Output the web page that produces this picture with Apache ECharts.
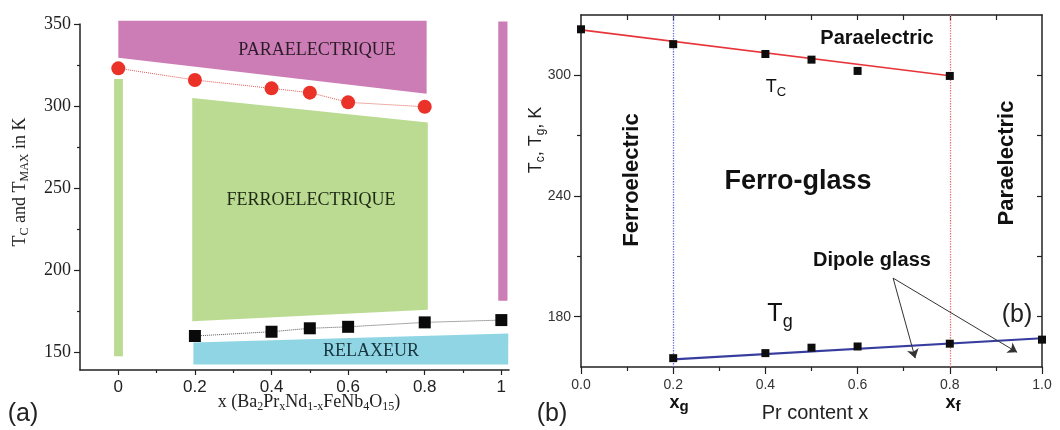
<!DOCTYPE html>
<html><head><meta charset="utf-8">
<script src="https://cdn.jsdelivr.net/npm/echarts@6/dist/echarts.min.js"></script>
<style>html,body{margin:0;padding:0;background:#fff}#c{width:1060px;height:430px}</style>
</head><body><div id="c"></div>
<script>
// ---------- Panel (a) data ----------
const aTmaxX = [0, 0.2, 0.4, 0.5, 0.6, 0.8];
const aTmaxY = [323.0, 315.9, 310.8, 308.2, 302.3, 299.6];
const aTgX = [0.2, 0.4, 0.5, 0.6, 0.8, 1.0];
const aTgY = [160.0, 162.6, 164.7, 165.6, 168.3, 169.7];
const aParaRegion = [[0, 352], [0.805, 352], [0.805, 307.5], [0, 329.5]];
const aFerroRegion = [[0.193, 305], [0.808, 290], [0.808, 176], [0.193, 169]];
const aRelaxRegion = [[0.196, 156], [1.018, 161.5], [1.018, 142.7], [0.196, 142.7]];
const aFerroX0Region = [[-0.011, 316.5], [0.012, 316.5], [0.012, 147.6], [-0.011, 147.6]];
const aParaX1Region = [[0.992, 351.5], [1.016, 351.5], [1.016, 181.5], [0.992, 181.5]];
const aXTicks = [0, 0.2, 0.4, 0.6, 0.8, 1];
const aXMinorTicks = [0.1, 0.3, 0.5, 0.7, 0.9];
const aYTicks = [150, 200, 250, 300, 350];
const aYMinorTicks = [175, 225, 275, 325];

// ---------- Panel (b) data ----------
const bTcX = [0, 0.2, 0.4, 0.5, 0.6, 0.8];
const bTcY = [322.9, 315.5, 310.6, 307.8, 302.2, 299.7];
const bTgX = [0.2, 0.4, 0.5, 0.6, 0.8, 1.0];
const bTgY = [159.4, 161.9, 164.6, 165.2, 166.6, 168.6];
const bTcFit = [[0, 322.6], [0.8, 299.8]];
const bTgFit = [[0.2, 158.8], [1.0, 169.3]];
const bBoundaries = [0.2, 0.8];
const bXTicks = [0, 0.2, 0.4, 0.6, 0.8, 1.0];
const bXMinorTicks = [0.1, 0.3, 0.5, 0.7, 0.9];
const bXAllTicks = [0.1, 0.2, 0.3, 0.4, 0.5, 0.6, 0.7, 0.8, 0.9];
const bYTicks = [180, 240, 300];
const bYMinorTicks = [210, 270];
const bYAllTicks = [180, 210, 240, 270, 300];
const bArrowFrom = [0.677, 199.2];
const bArrowTo = [[0.725, 159.4], [0.946, 162.3]];

const zip = (xs, ys) => xs.map((x, i) => [x, ys[i]]);
const SERIF = 'Liberation Serif', SANS = 'Liberation Sans';
const AX = '#222';

function poly(pts, color) {
  return {
    type: 'custom', xAxisIndex: 0, yAxisIndex: 0, data: pts, silent: true, z: 1, clip: false,
    renderItem: (params, api) => params.dataIndex === 0 ? {
      type: 'polygon', shape: { points: pts.map(p => api.coord(p)) }, style: { fill: color }
    } : null
  };
}

function xAxisDef(grid, min, max, pos, o) {
  return Object.assign({
    gridIndex: grid, type: 'value', min, max, position: pos,
    splitLine: { show: false },
    axisLine: { show: true, onZero: false, lineStyle: { color: AX, width: 1.5 } },
    axisTick: { show: false }, axisLabel: { show: false }
  }, o);
}
const yAxisDef = xAxisDef;

const chart = echarts.init(document.getElementById('c'));
chart.setOption({
  animation: false,
  backgroundColor: '#fff',
  grid: [
    { left: 80, top: 24, width: 429, height: 346 },
    { left: 581, top: 15, width: 461, height: 352 }
  ],
  xAxis: [
    xAxisDef(0, -0.1, 1.02, 'bottom', {
      axisTick: { show: true, customValues: aXTicks, length: 5, lineStyle: { color: AX, width: 1.2 } },
      axisLabel: { show: true, customValues: aXTicks, fontFamily: SANS, fontSize: 17, color: '#222', margin: 9 }
    }),
    xAxisDef(0, -0.1, 1.02, 'bottom', {
      axisLine: { show: false, onZero: false },
      axisTick: { show: true, customValues: aXMinorTicks, length: 3, lineStyle: { color: AX, width: 1.2 } }
    }),
    xAxisDef(1, 0, 1, 'bottom', {
      axisTick: { show: true, customValues: bXTicks, length: 7, lineStyle: { color: AX, width: 1.2 } },
      axisLabel: { show: true, customValues: bXTicks, formatter: v => v.toFixed(1), fontFamily: SANS, fontSize: 14, color: '#333', margin: 11 }
    }),
    xAxisDef(1, 0, 1, 'bottom', {
      axisLine: { show: false, onZero: false },
      axisTick: { show: true, customValues: bXMinorTicks, length: 4, lineStyle: { color: AX, width: 1.2 } }
    }),
    xAxisDef(1, 0, 1, 'top', {
      axisTick: { show: true, inside: true, customValues: bXAllTicks, length: 5, lineStyle: { color: AX, width: 1.2 } }
    })
  ],
  yAxis: [
    yAxisDef(0, 139.3, 350, 'left', {
      axisTick: { show: true, customValues: aYTicks, length: 6, lineStyle: { color: AX, width: 1.2 } },
      axisLabel: { show: true, customValues: aYTicks, fontFamily: SERIF, fontSize: 18, color: '#222', margin: 9 }
    }),
    yAxisDef(0, 139.3, 350, 'left', {
      axisLine: { show: false, onZero: false },
      axisTick: { show: true, customValues: aYMinorTicks, length: 3, lineStyle: { color: AX, width: 1.2 } }
    }),
    yAxisDef(1, 155, 330, 'left', {
      axisTick: { show: true, customValues: bYTicks, length: 7, lineStyle: { color: AX, width: 1.2 } },
      axisLabel: { show: true, customValues: bYTicks, fontFamily: SANS, fontSize: 14, color: '#333', margin: 10 }
    }),
    yAxisDef(1, 155, 330, 'left', {
      axisLine: { show: false, onZero: false },
      axisTick: { show: true, customValues: bYMinorTicks, length: 4, lineStyle: { color: AX, width: 1.2 } }
    }),
    yAxisDef(1, 155, 330, 'right', {
      axisTick: { show: true, inside: true, customValues: bYAllTicks, length: 5, lineStyle: { color: AX, width: 1.2 } }
    })
  ],
  series: [
    poly(aParaRegion, '#cd7db6'),
    poly(aFerroRegion, '#badb91'),
    poly(aRelaxRegion, '#8fd5e3'),
    poly(aFerroX0Region, '#badb91'),
    poly(aParaX1Region, '#cd7db6'),
    {
      type: 'line', xAxisIndex: 0, yAxisIndex: 0, data: zip(aTmaxX, aTmaxY), z: 5,
      symbol: 'circle', symbolSize: 14, itemStyle: { color: '#eb3228', opacity: 1 },
      lineStyle: { color: '#e05a55', width: 1, type: 'dotted' }
    },
    {
      type: 'line', xAxisIndex: 0, yAxisIndex: 0, data: zip(aTgX, aTgY), z: 5,
      symbol: 'rect', symbolSize: 12, itemStyle: { color: '#0a0a0a', opacity: 1 },
      lineStyle: { color: '#555', width: 1, type: 'dotted' }
    },
    {
      type: 'line', xAxisIndex: 2, yAxisIndex: 2, data: bTcFit, symbol: 'none', z: 3,
      lineStyle: { color: '#e8353a', width: 1.6 },
      markLine: {
        silent: true, symbol: ['none', 'none'], label: { show: false },
        data: bBoundaries.map((x, i) => ({
          xAxis: x,
          lineStyle: { color: i === 0 ? '#6767d4' : '#e86a6a', type: 'dotted', width: 1.3 }
        }))
      }
    },
    {
      type: 'line', xAxisIndex: 2, yAxisIndex: 2, data: bTgFit, symbol: 'none', z: 3,
      lineStyle: { color: '#373d9e', width: 2.2 }
    },
    {
      type: 'scatter', xAxisIndex: 2, yAxisIndex: 2, data: zip(bTcX, bTcY), z: 5, clip: false,
      symbol: 'rect', symbolSize: 8, itemStyle: { color: '#0d0d0d', opacity: 1 }
    },
    {
      type: 'scatter', xAxisIndex: 2, yAxisIndex: 2, data: zip(bTgX, bTgY), z: 5, clip: false,
      symbol: 'rect', symbolSize: 8, itemStyle: { color: '#0d0d0d', opacity: 1 }
    },
    {
      type: 'lines', coordinateSystem: 'cartesian2d', xAxisIndex: 2, yAxisIndex: 2, z: 6,
      symbol: ['none', 'arrow'], symbolSize: 9,
      lineStyle: { color: '#333', width: 1, opacity: 1 },
      data: bArrowTo.map(t => ({ coords: [bArrowFrom, t] }))
    }
  ],
  graphic: [
    // panel (a)
    { type: 'text', x: 317, y: 50, z: 100, style: { text: 'PARAELECTRIQUE', fontFamily: SERIF, fontSize: 18, fill: '#2b1c28', align: 'center', verticalAlign: 'middle' } },
    { type: 'text', x: 311, y: 200, z: 100, style: { text: 'FERROELECTRIQUE', fontFamily: SERIF, fontSize: 18, fill: '#1e2a14', align: 'center', verticalAlign: 'middle' } },
    { type: 'text', x: 371, y: 351, z: 100, style: { text: 'RELAXEUR', fontFamily: SERIF, fontSize: 18, fill: '#18333e', align: 'center', verticalAlign: 'middle' } },
    { type: 'text', x: 20, y: 182, rotation: Math.PI / 2, z: 100, style: {
      text: '{m|T}{s|C}{m| and T}{s|MAX}{m| in K}', align: 'center', verticalAlign: 'middle', fill: '#222',
      rich: { m: { fontFamily: SERIF, fontSize: 18, lineHeight: 22 }, s: { fontFamily: SERIF, fontSize: 12, lineHeight: 12, verticalAlign: 'bottom' } }
    } },
    { type: 'text', x: 309, y: 402, z: 100, style: {
      text: '{m|x (Ba}{s|2}{m|Pr}{s|x}{m|Nd}{s|1-x}{m|FeNb}{s|4}{m|O}{s|15}{m|)}', align: 'center', verticalAlign: 'middle', fill: '#222',
      rich: { m: { fontFamily: SERIF, fontSize: 18, lineHeight: 22 }, s: { fontFamily: SERIF, fontSize: 12, lineHeight: 12, verticalAlign: 'bottom' } }
    } },
    { type: 'text', x: 23, y: 414, z: 100, style: { text: '(a)', fontFamily: SANS, fontSize: 25, fill: '#222', align: 'center', verticalAlign: 'middle' } },
    // panel (b)
    { type: 'text', x: 877, y: 38, z: 100, style: { text: 'Paraelectric', fontFamily: SANS, fontWeight: 'bold', fontSize: 20, fill: '#111', align: 'center', verticalAlign: 'middle' } },
    { type: 'text', x: 776, y: 87, z: 100, style: {
      text: '{m|T}{s|C}', align: 'center', verticalAlign: 'middle', fill: '#111',
      rich: { m: { fontFamily: SANS, fontSize: 18, lineHeight: 24 }, s: { fontFamily: SANS, fontSize: 13, lineHeight: 12, verticalAlign: 'bottom' } }
    } },
    { type: 'text', x: 798, y: 182, z: 100, style: { text: 'Ferro-glass', fontFamily: SANS, fontWeight: 'bold', fontSize: 27, fill: '#111', align: 'center', verticalAlign: 'middle' } },
    { type: 'text', x: 632, y: 180, rotation: Math.PI / 2, z: 100, style: { text: 'Ferroelectric', fontFamily: SANS, fontWeight: 'bold', fontSize: 22, fill: '#111', align: 'center', verticalAlign: 'middle' } },
    { type: 'text', x: 1007, y: 163, rotation: Math.PI / 2, z: 100, style: { text: 'Paraelectric', fontFamily: SANS, fontWeight: 'bold', fontSize: 22, fill: '#111', align: 'center', verticalAlign: 'middle' } },
    { type: 'text', x: 872, y: 260, z: 100, style: { text: 'Dipole glass', fontFamily: SANS, fontWeight: 'bold', fontSize: 20, fill: '#111', align: 'center', verticalAlign: 'middle' } },
    { type: 'text', x: 780, y: 314, z: 100, style: {
      text: '{m|T}{s|g}', align: 'center', verticalAlign: 'middle', fill: '#111',
      rich: { m: { fontFamily: SANS, fontSize: 25, lineHeight: 34 }, s: { fontFamily: SANS, fontSize: 18, lineHeight: 14, verticalAlign: 'bottom' } }
    } },
    { type: 'text', x: 1017, y: 315, z: 100, style: { text: '(b)', fontFamily: SANS, fontSize: 25, fill: '#222', align: 'center', verticalAlign: 'middle' } },
    { type: 'text', x: 552, y: 414, z: 100, style: { text: '(b)', fontFamily: SANS, fontSize: 25, fill: '#222', align: 'center', verticalAlign: 'middle' } },
    { type: 'text', x: 679, y: 403, z: 100, style: {
      text: '{m|x}{s|g}', align: 'center', verticalAlign: 'middle', fill: '#111',
      rich: { m: { fontFamily: SANS, fontWeight: 'bold', fontSize: 18, lineHeight: 22 }, s: { fontFamily: SANS, fontWeight: 'bold', fontSize: 15, lineHeight: 12, verticalAlign: 'bottom' } }
    } },
    { type: 'text', x: 953, y: 403, z: 100, style: {
      text: '{m|x}{s|f}', align: 'center', verticalAlign: 'middle', fill: '#111',
      rich: { m: { fontFamily: SANS, fontWeight: 'bold', fontSize: 18, lineHeight: 22 }, s: { fontFamily: SANS, fontWeight: 'bold', fontSize: 15, lineHeight: 12, verticalAlign: 'bottom' } }
    } },
    { type: 'text', x: 815, y: 413, z: 100, style: { text: 'Pr content x', fontFamily: SANS, fontSize: 20, fill: '#222', align: 'center', verticalAlign: 'middle' } },
    { type: 'text', x: 536, y: 140, rotation: Math.PI / 2, z: 100, style: {
      text: '{m|T}{s|c}{m|, T}{s|g}{m|, K}', align: 'center', verticalAlign: 'middle', fill: '#222',
      rich: { m: { fontFamily: SANS, fontSize: 18, lineHeight: 22 }, s: { fontFamily: SANS, fontSize: 12, lineHeight: 12, verticalAlign: 'bottom' } }
    } }
  ]
});
</script>
</body></html>
